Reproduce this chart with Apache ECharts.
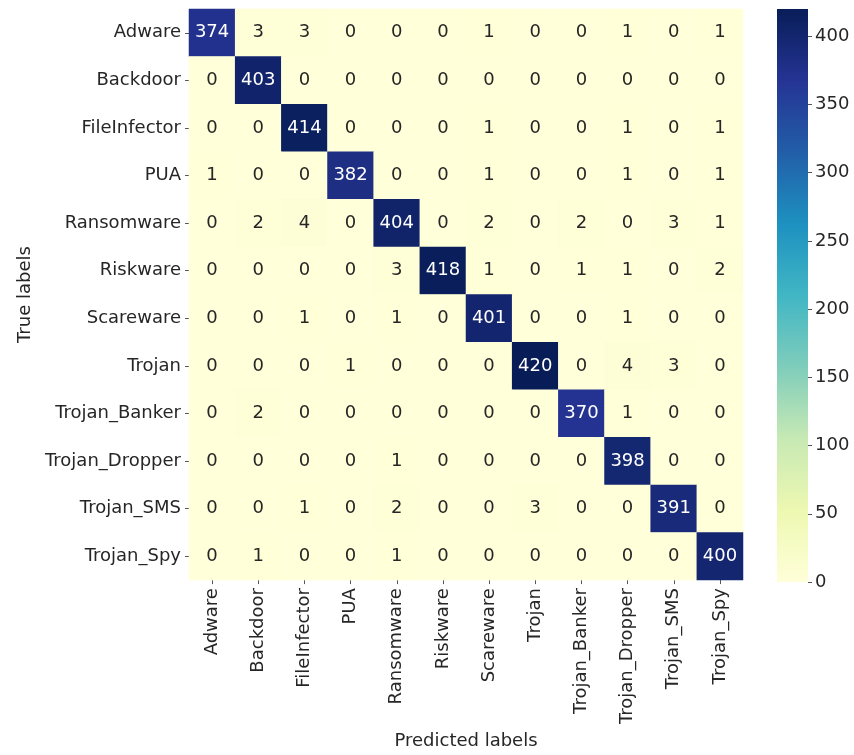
<!DOCTYPE html>
<html>
<head>
<meta charset="utf-8">
<script src="https://cdn.jsdelivr.net/npm/echarts@6/dist/echarts.min.js"></script>
<style>
  html, body { margin: 0; padding: 0; background: #ffffff; }
  #chart { width: 854px; height: 755px; }
</style>
</head>
<body>
<div id="chart"></div>
<script>
// Class names (rows = true label, columns = predicted label)
const classes = ['Adware', 'Backdoor', 'FileInfector', 'PUA', 'Ransomware', 'Riskware',
  'Scareware', 'Trojan', 'Trojan_Banker', 'Trojan_Dropper', 'Trojan_SMS', 'Trojan_Spy'];

// Confusion matrix counts, one row per true class
const rowAdware        = [374, 3, 3, 0, 0, 0, 1, 0, 0, 1, 0, 1];
const rowBackdoor      = [0, 403, 0, 0, 0, 0, 0, 0, 0, 0, 0, 0];
const rowFileInfector  = [0, 0, 414, 0, 0, 0, 1, 0, 0, 1, 0, 1];
const rowPUA           = [1, 0, 0, 382, 0, 0, 1, 0, 0, 1, 0, 1];
const rowRansomware    = [0, 2, 4, 0, 404, 0, 2, 0, 2, 0, 3, 1];
const rowRiskware      = [0, 0, 0, 0, 3, 418, 1, 0, 1, 1, 0, 2];
const rowScareware     = [0, 0, 1, 0, 1, 0, 401, 0, 0, 1, 0, 0];
const rowTrojan        = [0, 0, 0, 1, 0, 0, 0, 420, 0, 4, 3, 0];
const rowTrojanBanker  = [0, 2, 0, 0, 0, 0, 0, 0, 370, 1, 0, 0];
const rowTrojanDropper = [0, 0, 0, 0, 1, 0, 0, 0, 0, 398, 0, 0];
const rowTrojanSMS     = [0, 0, 1, 0, 2, 0, 0, 3, 0, 0, 391, 0];
const rowTrojanSpy     = [0, 1, 0, 0, 1, 0, 0, 0, 0, 0, 0, 400];

const matrix = [rowAdware, rowBackdoor, rowFileInfector, rowPUA, rowRansomware, rowRiskware,
  rowScareware, rowTrojan, rowTrojanBanker, rowTrojanDropper, rowTrojanSMS, rowTrojanSpy];

// Colour scale range and colourbar ticks
const scaleMin = 0;
const scaleMax = 420;
const colorbarTicks = [0, 50, 100, 150, 200, 250, 300, 350, 400];

// YlGnBu palette
const ylGnBu = ['#ffffd9', '#edf8b1', '#c7e9b4', '#7fcdbb', '#41b6c4',
  '#1d91c0', '#225ea8', '#253494', '#081d58'];

const FONT = '"DejaVu Sans", Verdana, sans-serif';
const TEXT = '#262626';
const FS = 18;

const heatData = [];
matrix.forEach((row, r) => {
  row.forEach((v, c) => {
    heatData.push({
      value: [c, r, v],
      label: { color: v > 200 ? '#ffffff' : TEXT }
    });
  });
});

const chart = echarts.init(document.getElementById('chart'), null, { renderer: 'canvas' });

chart.setOption({
  animation: false,
  backgroundColor: '#ffffff',
  grid: [
    { left: 189, top: 9, width: 554, height: 573 },
    { left: 777, top: 9, width: 31, height: 573 }
  ],
  xAxis: [
    {
      gridIndex: 0,
      type: 'category',
      data: classes,
      position: 'bottom',
      name: 'Predicted labels',
      nameLocation: 'middle',
      nameGap: 150,
      nameTextStyle: { fontFamily: FONT, fontSize: FS, color: TEXT },
      axisLine: { show: false },
      axisTick: { show: true, alignWithLabel: true, length: 4, lineStyle: { color: '#555' } },
      axisLabel: { rotate: 90, fontFamily: FONT, fontSize: FS, color: TEXT, margin: 8, interval: 0 },
      splitLine: { show: false }
    },
    {
      gridIndex: 1,
      type: 'category',
      data: ['bar'],
      boundaryGap: false,
      show: false
    }
  ],
  yAxis: [
    {
      gridIndex: 0,
      type: 'category',
      data: classes,
      inverse: true,
      name: 'True labels',
      nameLocation: 'middle',
      nameGap: 155,
      nameTextStyle: { fontFamily: FONT, fontSize: FS, color: TEXT },
      axisLine: { show: false },
      axisTick: { show: true, alignWithLabel: true, length: 4, lineStyle: { color: '#555' } },
      axisLabel: { fontFamily: FONT, fontSize: FS, color: TEXT, margin: 8, interval: 0 },
      splitLine: { show: false }
    },
    {
      gridIndex: 1,
      type: 'value',
      position: 'right',
      min: scaleMin,
      max: scaleMax,
      interval: 50,
      axisLine: { show: false },
      axisTick: { show: true, length: 4, lineStyle: { color: '#555' }, customValues: colorbarTicks },
      axisLabel: {
        fontFamily: FONT, fontSize: FS, color: TEXT, margin: 7,
        customValues: colorbarTicks
      },
      splitLine: { show: false }
    }
  ],
  visualMap: {
    type: 'continuous',
    show: false,
    min: scaleMin,
    max: scaleMax,
    dimension: 2,
    seriesIndex: 0,
    inRange: { color: ylGnBu }
  },
  series: [
    {
      type: 'heatmap',
      xAxisIndex: 0,
      yAxisIndex: 0,
      data: heatData,
      label: {
        show: true,
        fontFamily: FONT,
        fontSize: FS,
        formatter: p => String(p.value[2])
      },
      itemStyle: { borderWidth: 0 },
      emphasis: { disabled: true }
    },
    {
      // colourbar strip spanning the full value range, filling the grid width
      type: 'custom',
      xAxisIndex: 1,
      yAxisIndex: 1,
      silent: true,
      data: [[0, scaleMin, scaleMax]],
      renderItem: (params, api) => {
        const lo = api.coord([0, api.value(1)]);
        const hi = api.coord([0, api.value(2)]);
        const cs = params.coordSys;
        const stops = ylGnBu.map((c, i) => ({ offset: i / (ylGnBu.length - 1), color: c }));
        return {
          type: 'rect',
          shape: { x: cs.x, y: hi[1], width: cs.width, height: lo[1] - hi[1] },
          style: { fill: new echarts.graphic.LinearGradient(0, 1, 0, 0, stops) }
        };
      }
    }
  ]
});
</script>
</body>
</html>
